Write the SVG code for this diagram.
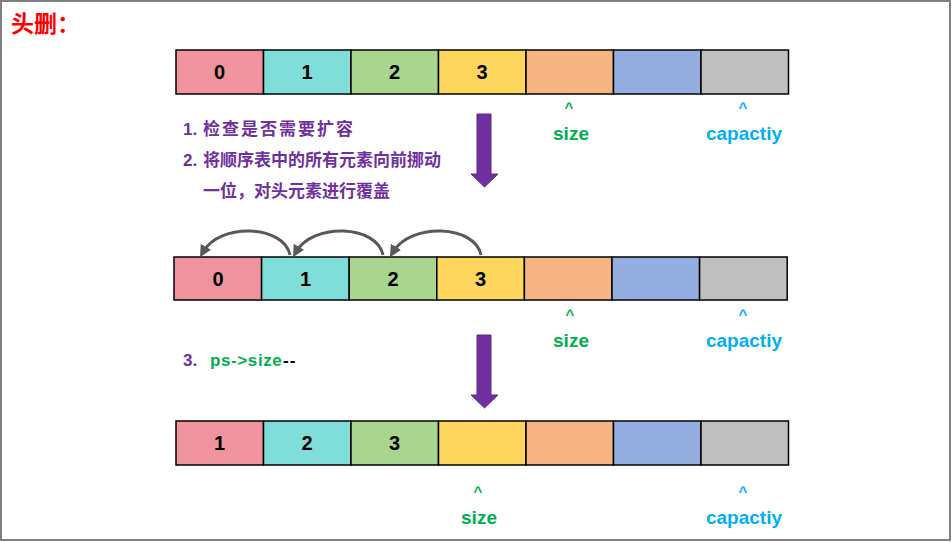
<svg xmlns="http://www.w3.org/2000/svg" width="952" height="542" viewBox="0 0 952 542">
<style>
.c{stroke:#000;stroke-width:1.5}
.n{font-family:"Liberation Sans",Arial,sans-serif;font-weight:bold;font-size:20px;text-anchor:middle;fill:#000}
.p{fill:#7030A0;stroke:#5A2A86;stroke-width:1}
.t{font-family:"Liberation Sans","Noto Sans CJK SC",sans-serif;font-weight:bold;font-size:17px;fill:#7030A0}
.g{fill:#00B050}
.b{fill:#00B0F0}
.lab{font-family:"Liberation Sans",Arial,sans-serif;font-weight:bold;font-size:19px;text-anchor:middle}
.car{font-family:"Liberation Sans",Arial,sans-serif;font-weight:bold;font-size:15px;text-anchor:middle}
.cv{fill:none;stroke:#595959;stroke-width:3}
</style>
<defs>
<marker id="ah" viewBox="0 0 10 10" refX="5" refY="5" markerWidth="4" markerHeight="4" orient="auto" markerUnits="strokeWidth">
<path d="M0,0 L10,5 L0,10 z" fill="#595959"/>
</marker>
</defs>
<rect x="1" y="1" width="949" height="539" fill="#fff" stroke="#808080" stroke-width="2"/>
<text x="11" y="32" font-family="'Noto Sans CJK SC',sans-serif" font-weight="bold" font-size="23" fill="#FF0000">头删：</text>

<g id="row1">
<rect class="c" x="176" y="50" width="87.5" height="44" fill="#EF949E"/>
<rect class="c" x="263.5" y="50" width="87.5" height="44" fill="#7FDED9"/>
<rect class="c" x="351" y="50" width="87.5" height="44" fill="#A9D58E"/>
<rect class="c" x="438.5" y="50" width="87.5" height="44" fill="#FED65E"/>
<rect class="c" x="526" y="50" width="87.5" height="44" fill="#F6B484"/>
<rect class="c" x="613.5" y="50" width="87.5" height="44" fill="#94AEE1"/>
<rect class="c" x="701" y="50" width="87.5" height="44" fill="#BFBFBF"/>
<text class="n" x="219.5" y="79">0</text>
<text class="n" x="307" y="79">1</text>
<text class="n" x="394.5" y="79">2</text>
<text class="n" x="482" y="79">3</text>
</g>
<g id="ptr1">
<text class="car g" x="569" y="113">^</text>
<text class="lab g" x="571" y="140">size</text>
<text class="car b" x="743" y="113">^</text>
<text class="lab b" x="744" y="140">capactiy</text>
</g>
<g id="steps12">
<text class="t" x="183" y="135">1. <tspan x="203" letter-spacing="2">检查是否需要扩容</tspan></text>
<text class="t" x="183" y="166">2. <tspan x="203">将顺序表中的所有元素向前挪动</tspan></text>
<text class="t" x="203" y="197">一位，对头元素进行覆盖</text>
</g>
<g id="down1">
<path class="p" d="M477,114 H491 V174 H498 L484.5,187 L471,174 H477 Z"/>
</g>

<g id="row2">
<rect class="c" x="174" y="257" width="87.6" height="43" fill="#EF949E"/>
<rect class="c" x="261.6" y="257" width="87.6" height="43" fill="#7FDED9"/>
<rect class="c" x="349.2" y="257" width="87.6" height="43" fill="#A9D58E"/>
<rect class="c" x="436.8" y="257" width="87.6" height="43" fill="#FED65E"/>
<rect class="c" x="524.4" y="257" width="87.6" height="43" fill="#F6B484"/>
<rect class="c" x="612" y="257" width="87.6" height="43" fill="#94AEE1"/>
<rect class="c" x="699.6" y="257" width="87.6" height="43" fill="#BFBFBF"/>
<text class="n" x="218" y="286">0</text>
<text class="n" x="305.5" y="286">1</text>
<text class="n" x="393" y="286">2</text>
<text class="n" x="480.5" y="286">3</text>
</g>
<g id="connectors">
<path class="cv" marker-end="url(#ah)" d="M290,255 C284,225 220,222 203,252"/>
<path class="cv" marker-end="url(#ah)" d="M383,255 C377,225 313,222 296,252"/>
<path class="cv" marker-end="url(#ah)" d="M481,255 C475,225 411,222 393,252"/>
</g>
<g id="ptr2">
<text class="car g" x="570" y="320">^</text>
<text class="lab g" x="571" y="347">size</text>
<text class="car b" x="743" y="320">^</text>
<text class="lab b" x="744" y="347">capactiy</text>
</g>
<g id="step3">
<text class="t" x="183" y="366">3.<tspan class="g" x="210" letter-spacing="0.6">ps-&gt;size</tspan><tspan fill="#000" x="283" letter-spacing="1">--</tspan></text>
</g>
<g id="down2">
<path class="p" d="M477,335 H491 V395 H498 L484.5,408 L471,395 H477 Z"/>
</g>

<g id="row3">
<rect class="c" x="176" y="421" width="87.5" height="44" fill="#EF949E"/>
<rect class="c" x="263.5" y="421" width="87.5" height="44" fill="#7FDED9"/>
<rect class="c" x="351" y="421" width="87.5" height="44" fill="#A9D58E"/>
<rect class="c" x="438.5" y="421" width="87.5" height="44" fill="#FED65E"/>
<rect class="c" x="526" y="421" width="87.5" height="44" fill="#F6B484"/>
<rect class="c" x="613.5" y="421" width="87.5" height="44" fill="#94AEE1"/>
<rect class="c" x="701" y="421" width="87.5" height="44" fill="#BFBFBF"/>
<text class="n" x="219.5" y="450">1</text>
<text class="n" x="307" y="450">2</text>
<text class="n" x="394.5" y="450">3</text>
</g>
<g id="ptr3">
<text class="car g" x="478" y="497">^</text>
<text class="lab g" x="479" y="524">size</text>
<text class="car b" x="743" y="497">^</text>
<text class="lab b" x="744" y="524">capactiy</text>
</g>
</svg>
